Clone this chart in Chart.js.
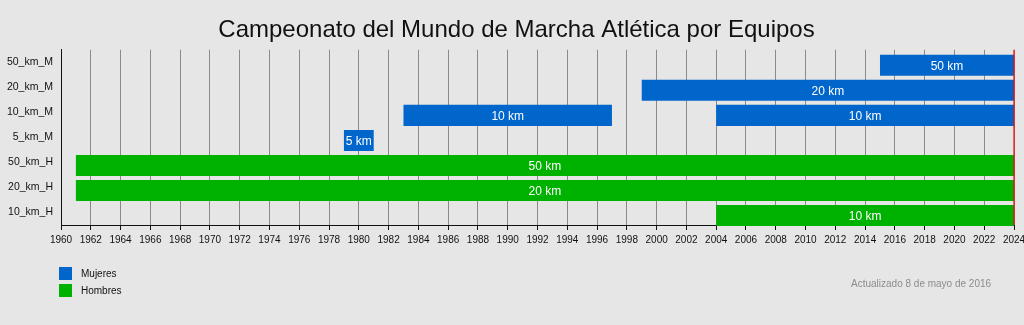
<!DOCTYPE html>
<html>
<head>
<meta charset="utf-8">
<script src="https://cdn.jsdelivr.net/npm/chart.js@4"></script>
<style>
  html, body { margin: 0; padding: 0; background: #e6e6e6; }
  #wrap { position: relative; width: 1024px; height: 325px; font-family: 'Liberation Sans', Arial, sans-serif; }
  .leg { position: absolute; left: 59px; font-size: 10px; color: #111; line-height: 13px; }
  .leg span { display: inline-block; width: 13px; height: 13px; vertical-align: top; margin-right: 9px; }
  #note { position: absolute; left: 851px; top: 278px; font-size: 10px; color: #8c8c8c; }
</style>
</head>
<body>
<div id="wrap">
  <canvas id="c" width="1024" height="325"></canvas>
  <div class="leg" style="top:267px"><span style="background:#0066cc"></span>Mujeres</div>
  <div class="leg" style="top:284px"><span style="background:#00b200"></span>Hombres</div>
  <div id="note">Actualizado 8 de mayo de 2016</div>
</div>
<script>
const TITLE = 'Campeonato del Mundo de Marcha Atlética por Equipos'
const CATEGORIES = ['50_km_M', '20_km_M', '10_km_M', '5_km_M', '50_km_H', '20_km_H', '10_km_H']
const BAR_TEXT = ['50 km', '20 km', '10 km', '5 km', '50 km', '20 km', '10 km']
const MUJERES = [[2015, 2024], [1999, 2024], [1983, 1997], [1979, 1981], null, null, null]
const MUJERES_2 = [null, null, [2004, 2024], null, null, null, null]
const HOMBRES = [null, null, null, null, [1961, 2024], [1961, 2024], [2004, 2024]]
const YEAR_MIN = 1960
const YEAR_MAX = 2024
const YEAR_STEP = 2

const BLUE = '#0066cc'
const GREEN = '#00b200'
const FONT = "'Liberation Sans', Arial, sans-serif"
const BAR_SHIFT = 3 // bars sit a bit below the row labels, like the original timeline

const bgPlugin = {
  id: 'bg',
  beforeDraw (chart) {
    const { ctx, width, height } = chart
    ctx.save(); ctx.fillStyle = '#e6e6e6'; ctx.fillRect(0, 0, width, height); ctx.restore()
  }
}

const shiftBars = {
  id: 'shiftBars',
  beforeDatasetsDraw (chart) { chart.ctx.save(); chart.ctx.translate(0, BAR_SHIFT) },
  afterDatasetsDraw (chart) { chart.ctx.restore() }
}

// white text in the middle of each bar + red line at the end year
const barText = {
  id: 'barText',
  afterDatasetsDraw (chart) {
    const { ctx, chartArea } = chart
    ctx.save()
    ctx.beginPath()
    ctx.rect(chartArea.left, chartArea.top, chartArea.width, chartArea.height + BAR_SHIFT)
    ctx.clip()
    ctx.fillStyle = '#ffffff'
    ctx.font = '12px ' + FONT
    ctx.textAlign = 'center'
    ctx.textBaseline = 'middle'
    chart.data.datasets.forEach((ds, i) => {
      chart.getDatasetMeta(i).data.forEach((el, j) => {
        if (!ds.data[j]) return
        const p = el.getCenterPoint()
        ctx.fillText(BAR_TEXT[j], p.x, p.y + BAR_SHIFT + 1)
      })
    })
    ctx.restore()

    const x = chart.scales.x.getPixelForValue(YEAR_MAX)
    ctx.save()
    ctx.strokeStyle = '#ff0000'
    ctx.lineWidth = 1.2
    ctx.beginPath(); ctx.moveTo(x, chartArea.top); ctx.lineTo(x, chartArea.bottom); ctx.stroke()
    ctx.restore()
  }
}

const ds = (label, data, color) => ({
  label, data, backgroundColor: color, borderWidth: 0,
  grouped: false, barPercentage: 0.84, categoryPercentage: 1
})

new Chart(document.getElementById('c'), {
  type: 'bar',
  data: {
    labels: CATEGORIES,
    datasets: [ds('Mujeres', MUJERES, BLUE), ds('Mujeres', MUJERES_2, BLUE), ds('Hombres', HOMBRES, GREEN)]
  },
  options: {
    indexAxis: 'y',
    responsive: false, animation: false,
    layout: { padding: { left: 0, right: -9, top: 0, bottom: 0 } },
    plugins: {
      legend: { display: false },
      tooltip: { enabled: false },
      title: {
        display: true, text: TITLE, color: '#111',
        font: { size: 24, family: FONT, weight: 'normal' },
        padding: { top: 16, bottom: 5 }
      }
    },
    scales: {
      x: {
        type: 'linear', min: YEAR_MIN, max: YEAR_MAX,
        afterFit: s => { s.height = 100; s.paddingLeft = 0; s.paddingRight = 10 },
        ticks: { stepSize: YEAR_STEP, color: '#111', font: { size: 10, family: FONT }, padding: 4, maxRotation: 0, autoSkip: false, callback: v => String(v) },
        grid: { color: '#8a8a8a', lineWidth: 1, tickColor: '#111', tickLength: 5, drawOnChartArea: true },
        border: { display: true, color: '#111', width: 1 }
      },
      y: {
        afterFit: s => { s.width = 61 },
        ticks: { color: '#111', font: { size: 10.5, family: FONT }, padding: 8 },
        grid: { display: false, drawTicks: false },
        border: { display: true, color: '#111', width: 1 }
      }
    }
  },
  plugins: [bgPlugin, shiftBars, barText]
})
</script>
</body>
</html>
